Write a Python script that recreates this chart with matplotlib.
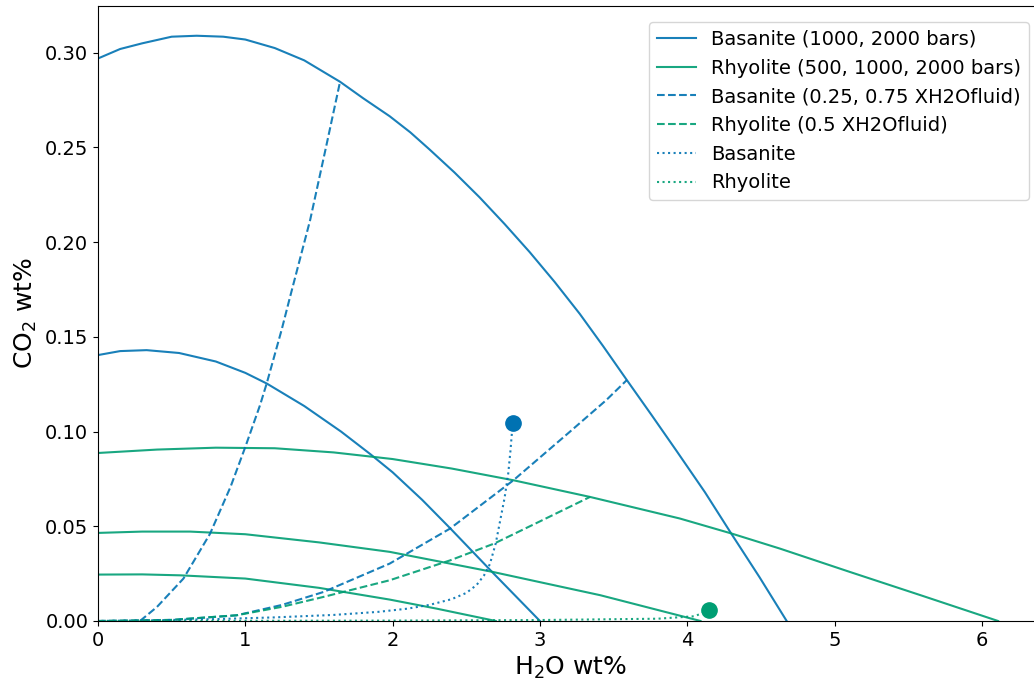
import matplotlib
matplotlib.use("Agg")
import matplotlib.pyplot as plt

# ---- data ----
# Basanite isobars (solid blue)
bas2000_h2o = [0, 0.15, 0.3, 0.5, 0.67, 0.85, 1.0, 1.2, 1.4, 1.643, 1.8, 1.98, 2.12, 2.25, 2.42, 2.59, 2.76, 2.93, 3.1, 3.27, 3.43, 3.59, 3.76, 3.93, 4.12, 4.30, 4.49, 4.675]
bas2000_co2 = [0.297, 0.302, 0.305, 0.3085, 0.309, 0.3085, 0.307, 0.3025, 0.296, 0.2847, 0.276, 0.2665, 0.258, 0.2490, 0.2368, 0.2237, 0.2096, 0.1948, 0.1790, 0.1622, 0.1450, 0.1272, 0.1085, 0.0895, 0.0680, 0.046, 0.0232, 0.0]
bas1000_h2o = [0, 0.15, 0.33, 0.55, 0.8, 1.0, 1.145, 1.4, 1.65, 1.85, 2.0, 2.2, 2.39, 2.68, 3.0]
bas1000_co2 = [0.1404, 0.1425, 0.143, 0.1415, 0.137, 0.131, 0.1254, 0.1135, 0.100, 0.088, 0.0785, 0.064, 0.049, 0.0255, 0.0]

# Rhyolite isobars (solid green)
rhy2000_h2o = [0, 0.4, 0.8, 1.2, 1.6, 2.0, 2.4, 2.82, 3.34, 3.95, 4.30, 4.63, 5.1, 5.6, 6.11]
rhy2000_co2 = [0.0887, 0.0905, 0.0915, 0.0912, 0.089, 0.0855, 0.0805, 0.0743, 0.0655, 0.0541, 0.0462, 0.0382, 0.026, 0.0132, 0.0]
rhy1000_h2o = [0, 0.3, 0.625, 1.0, 1.5, 1.98, 2.37, 2.68, 3.0, 3.41, 3.75, 4.09]
rhy1000_co2 = [0.0465, 0.0472, 0.0472, 0.0458, 0.0415, 0.0365, 0.0306, 0.0259, 0.0205, 0.0136, 0.0068, 0.0]
rhy500_h2o = [0, 0.3, 0.56, 1.0, 1.5, 1.98, 2.3, 2.7]
rhy500_co2 = [0.0245, 0.0246, 0.0241, 0.0224, 0.0175, 0.0113, 0.0065, 0.0]

# Isopleths (dashed)
bas_x025_h2o = [0.285, 0.4, 0.58, 0.76, 0.9, 1.0, 1.1, 1.145, 1.246, 1.3, 1.44, 1.55, 1.643]
bas_x025_co2 = [0.0, 0.0074, 0.0224, 0.046, 0.0709, 0.0919, 0.114, 0.1254, 0.1536, 0.170, 0.2117, 0.251, 0.2847]
bas_x075_h2o = [0, 0.5, 0.94, 1.25, 1.53, 1.98, 2.39, 2.82, 3.2, 3.45, 3.59]
bas_x075_co2 = [0.0, 0.0005, 0.003, 0.0085, 0.0153, 0.0303, 0.0488, 0.0743, 0.0997, 0.1166, 0.1272]
rhy_x05_h2o = [0, 0.5, 0.94, 1.25, 1.53, 1.98, 2.39, 2.69, 3.0, 3.34]
rhy_x05_co2 = [0.0, 0.0006, 0.003, 0.0075, 0.0127, 0.0215, 0.032, 0.0409, 0.0526, 0.0655]

# Degassing paths (dotted)
bas_path_h2o = [2.815, 2.80, 2.785, 2.76, 2.73, 2.70, 2.66, 2.62, 2.57, 2.50, 2.40, 2.25, 2.1, 1.9, 1.6, 1.2, 0.8, 0.4, 0]
bas_path_co2 = [0.1046, 0.090, 0.078, 0.065, 0.053, 0.041, 0.030, 0.024, 0.019, 0.0148, 0.0115, 0.0085, 0.0065, 0.0048, 0.0032, 0.0019, 0.001, 0.0004, 0.0]
rhy_path_h2o = [4.148, 4.05, 3.8, 3.0, 2.0, 1.0, 0]
rhy_path_co2 = [0.0057, 0.0025, 0.0012, 0.0005, 0.0002, 0.0001, 0.0]

# Starting compositions (dots)
bas_start = (2.815, 0.1046)
rhy_start = (4.148, 0.0057)

legend_labels = ["Basanite (1000, 2000 bars)", "Rhyolite (500, 1000, 2000 bars)",
                 "Basanite (0.25, 0.75 XH2Ofluid)", "Rhyolite (0.5 XH2Ofluid)",
                 "Basanite", "Rhyolite"]

# ---- plotting ----
BLUE = "#0072B2"
GREEN = "#009E73"
LALPHA = 0.9

fig = plt.figure(figsize=(10.34, 6.83), dpi=100)
# axes extends a little beyond the right edge of the picture (right spine cut off)
ax = fig.add_axes([0.0948, 0.0908, 0.9146, 0.9004])

h1, = ax.plot(bas1000_h2o, bas1000_co2, color=BLUE, alpha=LALPHA, lw=1.5)
ax.plot(bas2000_h2o, bas2000_co2, color=BLUE, alpha=LALPHA, lw=1.5)
h2, = ax.plot(rhy500_h2o, rhy500_co2, color=GREEN, alpha=LALPHA, lw=1.5)
ax.plot(rhy1000_h2o, rhy1000_co2, color=GREEN, alpha=LALPHA, lw=1.5)
ax.plot(rhy2000_h2o, rhy2000_co2, color=GREEN, alpha=LALPHA, lw=1.5)

h3, = ax.plot(bas_x025_h2o, bas_x025_co2, color=BLUE, alpha=LALPHA, lw=1.5, ls="--")
ax.plot(bas_x075_h2o, bas_x075_co2, color=BLUE, alpha=LALPHA, lw=1.5, ls="--")
h4, = ax.plot(rhy_x05_h2o, rhy_x05_co2, color=GREEN, alpha=LALPHA, lw=1.5, ls="--")

h5, = ax.plot(bas_path_h2o, bas_path_co2, color=BLUE, alpha=LALPHA, lw=1.5, ls=":")
h6, = ax.plot(rhy_path_h2o, rhy_path_co2, color=GREEN, alpha=LALPHA, lw=1.5, ls=":")

ax.plot([bas_start[0]], [bas_start[1]], "o", color=BLUE, ms=11)
ax.plot([rhy_start[0]], [rhy_start[1]], "o", color=GREEN, ms=11)

ax.set_xlim(0, 6.42)
ax.set_ylim(0, 0.3247)
ax.tick_params(labelsize=14)
ax.set_xlabel("H$_2$O wt%", fontsize=18)
ax.set_ylabel("CO$_2$ wt%", fontsize=18)

ax.legend([h1, h2, h3, h4, h5, h6], legend_labels, loc="upper right",
          bbox_to_anchor=(1029 / 1034, 1 - 22 / 683), bbox_transform=fig.transFigure,
          borderaxespad=0, fontsize=14, labelspacing=0.5)

fig.savefig("out.png", dpi=100)
